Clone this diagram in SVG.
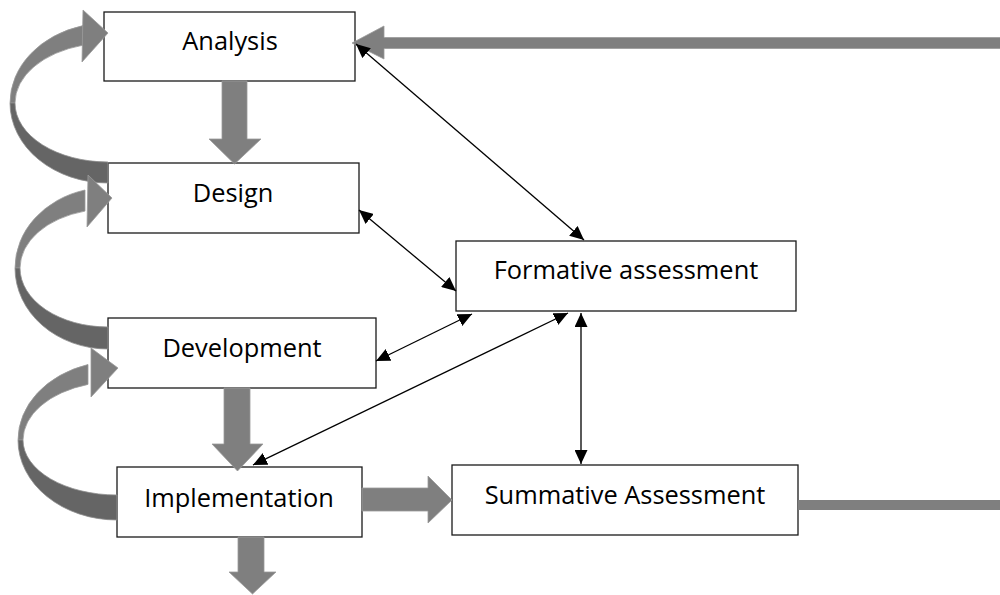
<svg xmlns="http://www.w3.org/2000/svg" width="1000" height="595" viewBox="0 0 1000 595">
<defs>
<style>
.box{fill:#fff;stroke:#1a1a1a;stroke-width:1.3}
.lbl{font-family:"Open Sans","Liberation Sans",sans-serif;font-size:25.4px;fill:#000;text-anchor:middle}
.ga{fill:#7f7f7f;stroke:#9a9a9a;stroke-width:0.8}
.gd{fill:#656565;stroke:#8f8f8f;stroke-width:0.8}
.thin{stroke:#000;stroke-width:1.3;fill:none;marker-start:url(#ah);marker-end:url(#ah)}
</style>
<marker id="ah" viewBox="0 0 14 13" refX="14" refY="6.5" markerWidth="14" markerHeight="13" markerUnits="userSpaceOnUse" orient="auto-start-reverse">
<path d="M0,0 L14,6.5 L0,13 Z" fill="#000"/>
</marker>
</defs>
<rect width="1000" height="595" fill="#fff"/>

<g id="analysis"><rect class="box" x="104" y="12" width="251" height="69"/><text class="lbl" x="230" y="50">Analysis</text></g>
<g id="design"><rect class="box" x="108" y="163" width="251" height="70"/><text class="lbl" x="233" y="202">Design</text></g>
<g id="development"><rect class="box" x="108" y="318" width="268" height="70"/><text class="lbl" x="242" y="357">Development</text></g>
<g id="implementation"><rect class="box" x="117" y="467" width="245" height="70"/><text class="lbl" x="239" y="507">Implementation</text></g>
<g id="formative"><rect class="box" x="456" y="241" width="340" height="70"/><text class="lbl" x="626" y="279">Formative assessment</text></g>
<g id="summative"><rect class="box" x="452" y="465" width="346" height="70"/><text class="lbl" x="625" y="504">Summative Assessment</text></g>

<g id="connectors">
<!-- curved loop arrows -->
<path class="ga" d="M83,25.6 A98,80 0 0,0 10,103 L15,103 A93,60 0 0,1 83,45.2 Z"/>
<path class="gd" d="M10,103 A98,80 0 0,0 108,183 L108,162 A93,59 0 0,1 15,103 Z"/>
<path class="ga" d="M83,10 L108,33 L82,62 Z"/>

<path class="ga" d="M85,190 A93,80.5 0 0,0 15,268 L20,268 A88,59 0 0,1 85,211.1 Z"/>
<path class="gd" d="M15,268 A93,81 0 0,0 108,349 L108,327 A88,59 0 0,1 20,268 Z"/>
<path class="ga" d="M88,175 L112,198 L87,227 Z"/>

<path class="ga" d="M88,364.5 A99,79 0 0,0 18,440 L23,440 A94,58.5 0 0,1 88,384.4 Z"/>
<path class="gd" d="M18,440 A99,80 0 0,0 117,520 L117,495 A94,55 0 0,1 23,440 Z"/>
<path class="ga" d="M91,348 L118,368 L91,397 Z"/>

<!-- straight block arrows -->
<path class="ga" d="M222,81 L247,81 L247,139 L261,139 L234.5,164 L209,139 L222,139 Z"/>
<path class="ga" d="M224,388 L250,388 L250,444 L263,444 L237.5,471 L212,444 L224,444 Z"/>
<path class="ga" d="M238,537 L264,537 L264,572 L276,572 L252.5,594 L229,572 L238,572 Z"/>
<path class="ga" d="M362,488 L428,488 L428,476 L452,500 L428,523 L428,511 L362,511 Z"/>
<path class="ga" d="M1001,37.5 L384,37.5 L384,26 L352,43 L384,59 L384,48.5 L1001,48.5 Z"/>
<rect x="798" y="500" width="203" height="10" fill="#7f7f7f"/>

<!-- thin double-headed connectors -->
<line class="thin" x1="356" y1="44" x2="584" y2="240"/>
<line class="thin" x1="359" y1="210" x2="456" y2="291"/>
<line class="thin" x1="376" y1="361" x2="472" y2="314"/>
<line class="thin" x1="253" y1="465" x2="568" y2="313"/>
<line class="thin" x1="581" y1="313" x2="581" y2="464"/>
</g>
</svg>
